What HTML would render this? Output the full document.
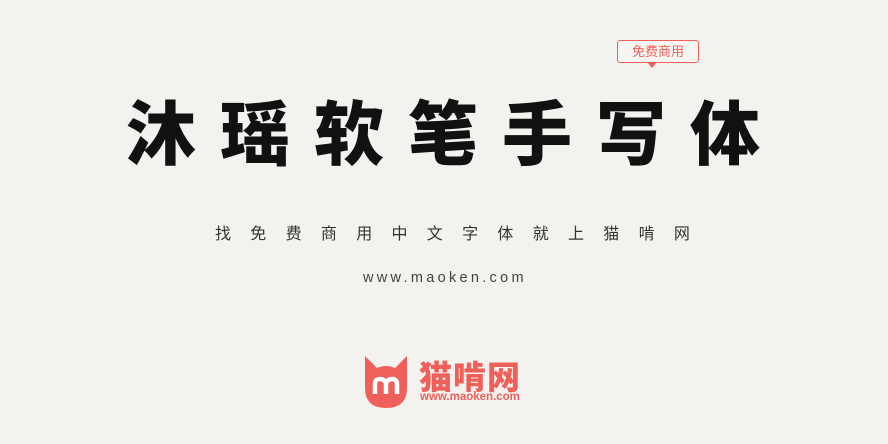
<!DOCTYPE html>
<html><head><meta charset="utf-8"><style>
body{margin:0;width:888px;height:444px;background:#f3f2ef;position:relative;overflow:hidden;font-family:"Liberation Sans","Noto Sans CJK SC",sans-serif}
.a{position:absolute;white-space:nowrap}
</style></head><body>
<div class="a" style="left:617px;top:40px;width:80px;height:21px;border:1.5px solid #f0605a;border-radius:3px;color:#f0605a;font-size:13px;line-height:21px;text-align:center;background:#f7f5f2">免费商用</div>
<div class="a" style="left:647px;top:62px;width:0;height:0;border-left:5px solid transparent;border-right:5px solid transparent;border-top:6px solid #f0605a"></div>
<div class="a" style="left:126px;top:80px;font-family:'Noto Sans CJK SC',sans-serif;font-weight:900;font-size:70px;letter-spacing:24px;line-height:100px;color:#111">沐瑶软笔手写体</div>
<div class="a" style="left:215px;top:220px;font-family:'Noto Sans CJK SC',sans-serif;font-size:16px;letter-spacing:19.3px;color:#333;line-height:24px">找免费商用中文字体就上猫啃网</div>
<div class="a" style="left:363px;top:269px;font-size:14.5px;letter-spacing:3.3px;color:#444;line-height:18px">www.maoken.com</div>
<svg class="a" style="left:363px;top:354px" width="46" height="56" viewBox="0 0 46 56">
<path d="M2 2 L14 14 Q23 10 32 14 L44 2 L44 34 Q44 54 23 54 Q2 54 2 34 Z" fill="#f0605a"/>
<path d="M12 40 V30 Q12 25 17 25 Q21 25 23 29 Q25 25 29 25 Q34 25 34 30 V40" stroke="#fff" stroke-width="4.5" fill="none"/>
<path d="M23 29 V40" stroke="#fff" stroke-width="4.5"/>
</svg>
<div class="a" style="left:419px;top:353px;font-family:'Noto Sans CJK SC',sans-serif;font-weight:900;font-size:33px;letter-spacing:1px;color:#f0605a;line-height:44px">猫啃网</div>
<div class="a" style="left:420px;top:390px;font-size:11.5px;font-weight:bold;color:#f0605a;line-height:14px">www.maoken.com</div>
</body></html>
